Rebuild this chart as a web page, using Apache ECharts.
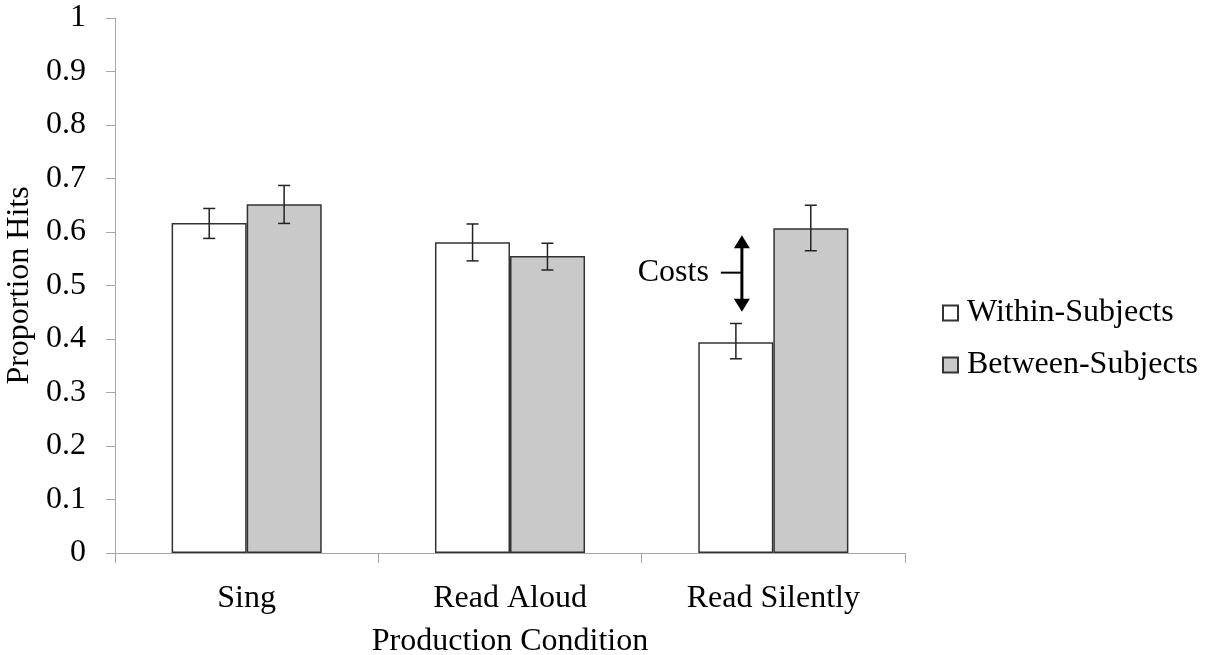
<!DOCTYPE html>
<html>
<head>
<meta charset="utf-8">
<script src="https://cdn.jsdelivr.net/npm/echarts@6/dist/echarts.min.js"></script>
<style>html,body{margin:0;padding:0;background:#fff;}#chart{width:1211px;height:655px;}</style>
</head>
<body>
<div id="chart"></div>
<script>
const categories = ['Sing', 'Read Aloud', 'Read Silently'];
const withinValues = [0.617, 0.581, 0.394];
const betweenValues = [0.652, 0.555, 0.607];
const withinErrLow = [0.588, 0.546, 0.363];
const withinErrHigh = [0.644, 0.615, 0.429];
const betweenErrLow = [0.616, 0.529, 0.565];
const betweenErrHigh = [0.687, 0.579, 0.650];
// Costs arrow annotation (category index, arrow top, arrow bottom, label level)
const costsArrow = [[2, 0.594, 0.451, 0.524]];
const costsLabel = 'Costs';

const FONT = '"Liberation Serif", "Times New Roman", serif';
const FS = 32;
const chart = echarts.init(document.getElementById('chart'));

function errRender(sign) {
  return function (params, api) {
    const band = api.size([1, 0])[0];
    const c = api.coord([api.value(0), 0]);
    const x = c[0] + sign * band * 0.1422;
    const lo = api.coord([api.value(0), api.value(1)])[1];
    const hi = api.coord([api.value(0), api.value(2)])[1];
    const cap = 6;
    const st = { stroke: '#222', lineWidth: 1.5 };
    return {
      type: 'group',
      children: [
        { type: 'line', shape: { x1: x, y1: lo, x2: x, y2: hi }, style: st },
        { type: 'line', shape: { x1: x - cap, y1: lo, x2: x + cap, y2: lo }, style: st },
        { type: 'line', shape: { x1: x - cap, y1: hi, x2: x + cap, y2: hi }, style: st }
      ]
    };
  };
}

function arrowRender(params, api) {
  const band = api.size([1, 0])[0];
  const c = api.coord([api.value(0), 0]);
  const x = c[0] - band * 0.1422 + 6;
  const top = api.coord([api.value(0), api.value(1)])[1];
  const bot = api.coord([api.value(0), api.value(2)])[1];
  const mid = api.coord([api.value(0), api.value(3)])[1];
  const hw = 8, hh = 13;
  return {
    type: 'group',
    children: [
      { type: 'line', shape: { x1: x, y1: top + hh - 1, x2: x, y2: bot - hh + 1 }, style: { stroke: '#000', lineWidth: 3 } },
      { type: 'polygon', shape: { points: [[x, top], [x - hw, top + hh], [x + hw, top + hh]] }, style: { fill: '#000' } },
      { type: 'polygon', shape: { points: [[x, bot], [x - hw, bot - hh], [x + hw, bot - hh]] }, style: { fill: '#000' } },
      { type: 'line', shape: { x1: x - 21, y1: mid, x2: x, y2: mid }, style: { stroke: '#000', lineWidth: 2 } },
      { type: 'text', x: x - 33, y: mid, style: { text: costsLabel, fill: '#000', font: FS + 'px ' + FONT, align: 'right', verticalAlign: 'middle' } }
    ]
  };
}

chart.setOption({
  animation: false,
  backgroundColor: '#fff',
  grid: { left: 115, right: 306, top: 18, bottom: 102, outerBoundsMode: 'none', containLabel: false },
  legend: {
    data: ['Within-Subjects', 'Between-Subjects'],
    orient: 'vertical',
    left: 942,
    top: 297,
    itemWidth: 15,
    itemHeight: 15,
    itemGap: 20,
    padding: 0,
    icon: 'rect',
    textStyle: { fontFamily: FONT, fontSize: FS, color: '#000', padding: [0, 0, 0, 4] }
  },
  xAxis: {
    type: 'category',
    data: categories,
    boundaryGap: true,
    name: 'Production Condition',
    nameLocation: 'middle',
    nameGap: 73,
    nameTextStyle: { fontFamily: FONT, fontSize: FS, color: '#000' },
    axisLine: { lineStyle: { color: '#a6a6a6', width: 1 } },
    axisTick: { show: true, length: 10, lineStyle: { color: '#a6a6a6' } },
    axisLabel: { fontFamily: FONT, fontSize: FS, color: '#000', margin: 30 }
  },
  yAxis: {
    type: 'value',
    min: 0,
    max: 1,
    interval: 0.1,
    name: 'Proportion Hits',
    nameLocation: 'middle',
    nameGap: 72,
    nameTextStyle: { fontFamily: FONT, fontSize: FS, color: '#000' },
    splitLine: { show: false },
    axisLine: { show: true, lineStyle: { color: '#a6a6a6', width: 1 } },
    axisTick: { show: true, length: 9, lineStyle: { color: '#a6a6a6' } },
    axisLabel: {
      fontFamily: FONT, fontSize: FS, color: '#000', margin: 29,
      formatter: v => String(+v.toFixed(1))
    }
  },
  series: [
    {
      name: 'Within-Subjects', type: 'bar', data: withinValues,
      barGap: '0%', barCategoryGap: '43%',
      itemStyle: { color: '#ffffff', borderColor: '#333', borderWidth: 1.5 }
    },
    {
      name: 'Between-Subjects', type: 'bar', data: betweenValues,
      barGap: '0%', barCategoryGap: '43%',
      itemStyle: { color: '#c9c9c9', borderColor: '#333', borderWidth: 1.5 }
    },
    {
      type: 'custom', name: 'errW', z: 5,
      data: categories.map((c, i) => [i, withinErrLow[i], withinErrHigh[i]]),
      encode: { x: 0, y: [1, 2] },
      renderItem: errRender(-1), silent: true
    },
    {
      type: 'custom', name: 'errB', z: 5,
      data: categories.map((c, i) => [i, betweenErrLow[i], betweenErrHigh[i]]),
      encode: { x: 0, y: [1, 2] },
      renderItem: errRender(1), silent: true
    },
    {
      type: 'custom', name: 'costs', z: 6,
      data: costsArrow,
      encode: { x: 0, y: [1, 2, 3] },
      renderItem: arrowRender, silent: true
    }
  ]
});
</script>
</body>
</html>
